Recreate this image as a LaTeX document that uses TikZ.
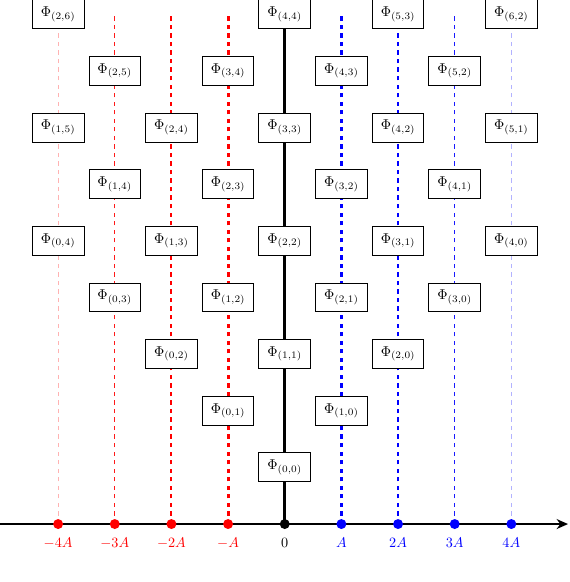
\documentclass[tikz,border=0pt]{standalone}
\usetikzlibrary{arrows.meta}
\begin{document}
\begin{tikzpicture}[x=1.4cm,y=1.4cm,
  phibox/.style={draw=black, fill=white, inner xsep=6pt, inner ysep=5pt, semithick},
  axisline/.style={line width=1.7pt, -{Stealth[length=8pt,width=7pt]}},
  dotmark/.style={circle, inner sep=0pt, minimum size=7pt},
  ticklabel/.style={inner sep=0pt, anchor=base}]
\useasboundingbox (-5.026,-1.023) rectangle (5.026,9.25);
% vertical lines
\coordinate (t0) at (0,9);
\coordinate (b0) at (0,0);
\draw[line width=1.9pt, black] (b0) -- (t0);
\foreach \k/\w/\op in {1/2pt/1, 2/1.5pt/1, 3/1pt/0.9, 4/0.5pt/0.3}{
  \coordinate (tm\k) at (-\k,9);
  \coordinate (bm\k) at (-\k,0);
  \coordinate (tp\k) at (\k,9);
  \coordinate (bp\k) at (\k,0);
  \draw[red, dashed, line width=\w, draw opacity=\op] (bm\k) -- (tm\k);
  \draw[blue, dashed, line width=\w, draw opacity=\op] (bp\k) -- (tp\k);
}
% axis
\coordinate (axl) at (-5.03,0);
\coordinate (axr) at (5.0,0);
\draw[axisline] (axl) -- (axr);
% dots and labels
\node[dotmark, fill=black] (d0) at (0,0) {};
\node[ticklabel] (l0) at (0,-0.42) {$0$};
\foreach \k/\lab in {1/A, 2/2A, 3/3A, 4/4A}{
  \node[dotmark, fill=red] (dm\k) at (-\k,0) {};
  \node[dotmark, fill=blue] (dp\k) at (\k,0) {};
  \node[ticklabel, red] (lm\k) at (-\k,-0.42) {$-\lab$};
  \node[ticklabel, blue] (lp\k) at (\k,-0.42) {$\lab$};
}
% Phi nodes
\foreach \a/\b in {4/4,4/3,3/3,3/2,2/2,2/1,1/1,1/0,0/0,
  5/3,5/2,4/2,4/1,3/1,3/0,2/0,
  6/2,5/1,4/0,
  3/6,3/4,2/4,2/3,1/3,1/2,0/2,0/1,
  2/6,2/5,1/5,1/4,0/4,0/3}{
  \pgfmathtruncatemacro{\col}{\a-\b}
  \pgfmathtruncatemacro{\row}{\a+\b+1}
  \node[phibox] (p\a\b) at (\col,\row) {$\Phi_{(\a,\b)}$};
}
\end{tikzpicture}
\end{document}
